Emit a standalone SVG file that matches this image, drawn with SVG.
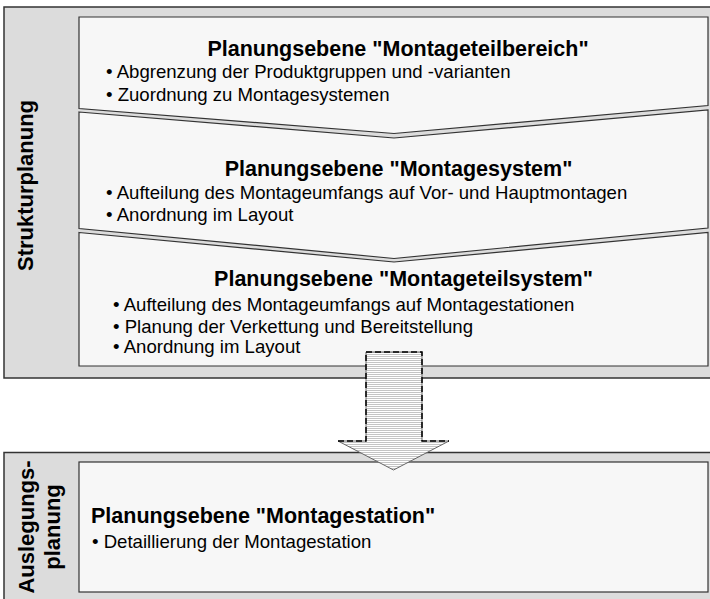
<svg xmlns="http://www.w3.org/2000/svg" width="710" height="599" viewBox="0 0 710 599">
  <style>
    .frame { fill: #dcdcdc; stroke: #333333; stroke-width: 1.5; }
    .level { fill: #f7f7f7; stroke: #333333; stroke-width: 1.2; stroke-linejoin: miter; }
    .title { font-family: "Liberation Sans", Arial, sans-serif; font-size: 21.5px; font-weight: bold; fill: #000000; }
    .item { font-family: "Liberation Sans", Arial, sans-serif; font-size: 18.6px; fill: #000000; }
    .side { font-family: "Liberation Sans", Arial, sans-serif; font-size: 22px; font-weight: bold; fill: #000000; text-anchor: middle; }
    .dash { fill: none; stroke: #000000; stroke-width: 1.5; stroke-dasharray: 6 3; }
  </style>
  <defs>
    <pattern id="hatch" width="4" height="2" patternUnits="userSpaceOnUse">
      <rect width="4" height="2" fill="#ffffff"/>
      <rect width="4" height="1" fill="#c4c4c4"/>
    </pattern>
  </defs>

  <!-- Structure planning band -->
  <g id="strukturplanung">
    <rect class="frame" x="4" y="7" width="710" height="371"/>
    <text class="side" transform="translate(32.5,185.5) rotate(-90)">Strukturplanung</text>
  </g>

  <g id="montageteilbereich">
    <polygon class="level" points="79,17 708,17 708,105.5 394,133.5 79,108.5"/>
    <text class="title" x="398" y="55.5" text-anchor="middle">Planungsebene "Montageteilbereich"</text>
    <text class="item" x="106" y="78">• Abgrenzung der Produktgruppen und -varianten</text>
    <text class="item" x="106" y="101">• Zuordnung zu Montagesystemen</text>
  </g>

  <g id="montagesystem">
    <polygon class="level" points="79,112 394,138 708,110 708,228 394,258.5 79,228.5"/>
    <text class="title" x="398.5" y="175.5" text-anchor="middle">Planungsebene "Montagesystem"</text>
    <text class="item" x="106" y="198.5">• Aufteilung des Montageumfangs auf Vor- und Hauptmontagen</text>
    <text class="item" x="106" y="221">• Anordnung im Layout</text>
  </g>

  <g id="montageteilsystem">
    <polygon class="level" points="79,232.5 394,262 708,232.5 708,366 79,366"/>
    <text class="title" x="403.5" y="285.5" text-anchor="middle">Planungsebene "Montageteilsystem"</text>
    <text class="item" x="113" y="311">• Aufteilung des Montageumfangs auf Montagestationen</text>
    <text class="item" x="113" y="332.5">• Planung der Verkettung und Bereitstellung</text>
    <text class="item" x="113" y="353">• Anordnung im Layout</text>
  </g>

  <!-- Layout planning band -->
  <g id="auslegungsplanung">
    <rect class="frame" x="4" y="452.5" width="710" height="160"/>
    <text class="side" transform="translate(33.5,527) rotate(-90)">Auslegungs-</text>
    <text class="side" transform="translate(60,527) rotate(-90)">planung</text>
  </g>

  <g id="montagestation">
    <rect class="level" x="79" y="462" width="629" height="130"/>
    <text class="title" x="91" y="523">Planungsebene "Montagestation"</text>
    <text class="item" x="92" y="547.5">• Detaillierung der Montagestation</text>
  </g>

  <!-- Transition arrow between the two bands -->
  <g id="connectors">
    <polygon points="366,352 422,352 422,441 449,441 393.5,470 338,441 366,441" fill="url(#hatch)" stroke="#666666" stroke-width="1"/>
    <polyline class="dash" points="338,441 366,441 366,352 422,352 422,441 449,441"/>
  </g>
</svg>
